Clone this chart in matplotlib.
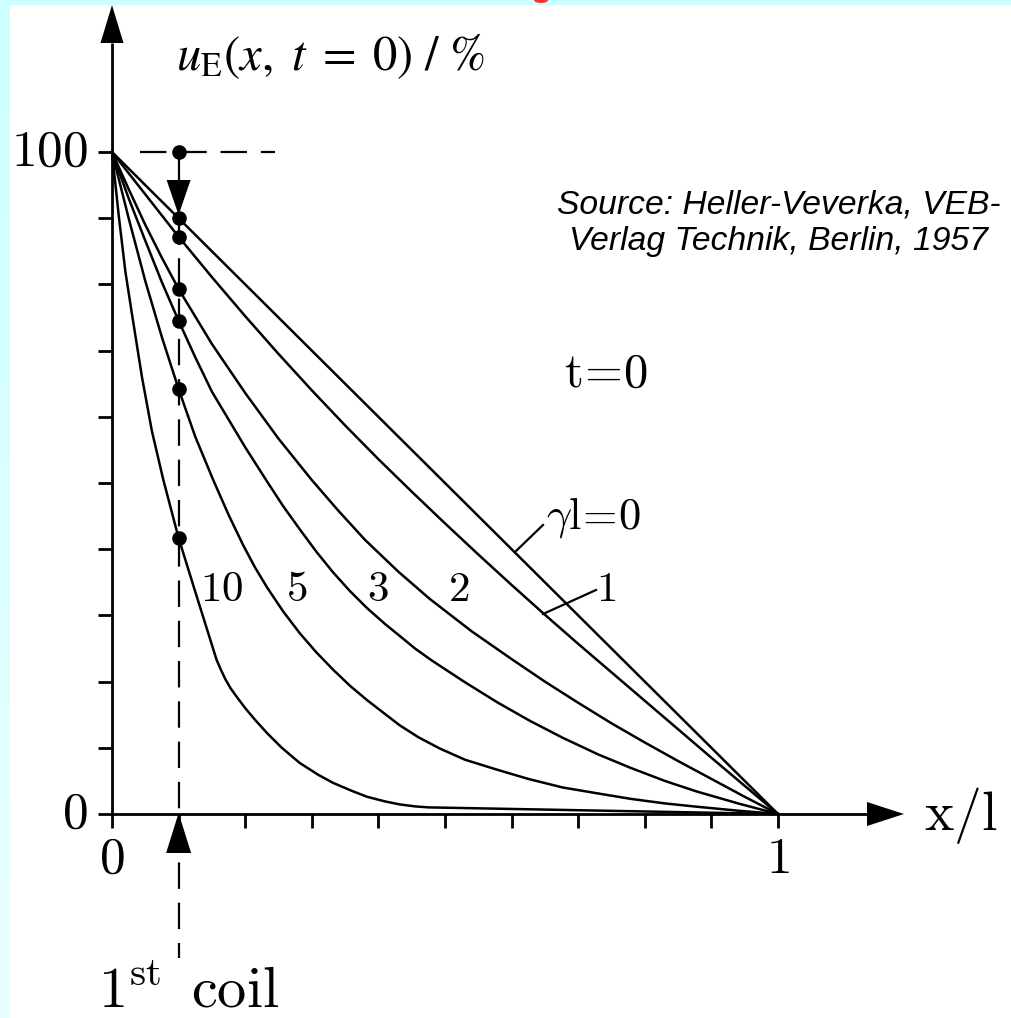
import matplotlib
matplotlib.use('Agg')
import matplotlib.pyplot as plt
from matplotlib.patches import Rectangle, Ellipse
import numpy as np

plt.rcParams['mathtext.fontset'] = 'cm'
plt.rcParams['lines.scale_dashes'] = False

# Voltage distribution u_E(x, t=0) in % along the winding
x_g0 = [0, 1]
u_g0 = [100, 0]

x_g1 = [0, 0.05, 0.1, 0.15, 0.2, 0.25, 0.3, 0.35, 0.4, 0.45, 0.5,
        0.55, 0.6, 0.65, 0.7, 0.75, 0.8, 0.85, 0.9, 0.95, 1]
u_g1 = [100, 93.6, 87.2, 81.1, 75.2, 69.5, 64.0, 58.7, 53.6, 48.7, 43.9,
        39.2, 34.6, 30.1, 25.7, 21.4, 17.1, 12.8, 8.5, 4.25, 0]

x_g2 = [0, 0.025, 0.05, 0.075, 0.1, 0.15, 0.2, 0.25, 0.3, 0.34, 0.38, 0.43,
        0.477, 0.54, 0.6, 0.65, 0.7, 0.75, 0.8, 0.85, 0.9, 0.95, 1]
u_g2 = [100, 94.4, 89.0, 84.0, 79.3, 71.0, 63.6, 56.7, 50.45, 45.8, 41.4, 36.6,
        32.5, 27.6, 23.4, 20.0, 16.8, 13.7, 10.8, 8.0, 5.3, 2.6, 0]

x_g3 = [0, 0.025, 0.05, 0.075, 0.1, 0.125, 0.15, 0.175, 0.2, 0.233, 0.257,
        0.282, 0.307, 0.332, 0.357, 0.383, 0.41, 0.432, 0.455, 0.48, 0.53,
        0.578, 0.627, 0.677, 0.73, 0.778, 0.83, 0.878, 0.94, 1]
u_g3 = [100, 93.0, 86.6, 80.3, 74.5, 69.0, 63.8, 59.6, 55.4, 50.2, 46.5,
        43.0, 39.6, 36.5, 33.7, 31.1, 28.7, 26.9, 25.0, 23.2, 19.9,
        16.9, 14.1, 11.5, 9.0, 7.0, 5.0, 3.4, 1.6, 0]

x_g5 = [0, 0.025, 0.05, 0.075, 0.1, 0.125, 0.152, 0.175, 0.197, 0.215, 0.233,
        0.257, 0.282, 0.307, 0.332, 0.357, 0.383, 0.41, 0.432, 0.46, 0.492,
        0.53, 0.578, 0.625, 0.677, 0.73, 0.778, 0.83, 0.878, 0.94, 1]
u_g5 = [100, 90.0, 80.5, 72.0, 64.2, 57.0, 50.45, 45.2, 40.6, 37.2, 34.2,
        30.6, 27.3, 24.4, 21.8, 19.4, 17.2, 15.1, 13.4, 11.6, 9.9,
        8.2, 6.7, 5.3, 4.0, 3.1, 2.3, 1.6, 1.1, 0.5, 0]

x_g10 = [0, 0.01, 0.02, 0.03, 0.045, 0.06, 0.077, 0.1, 0.124, 0.157, 0.163,
         0.17, 0.178, 0.188, 0.2, 0.215, 0.233, 0.255, 0.282, 0.31, 0.332,
         0.36, 0.383, 0.41, 0.432, 0.455, 0.475, 1]
u_g10 = [100, 90.5, 82.0, 75.5, 66.0, 57.8, 50.5, 41.7, 33.9, 23.3, 21.9,
         20.4, 19.0, 17.6, 16.0, 14.2, 12.2, 10.0, 7.7, 5.9, 4.7,
         3.5, 2.6, 1.9, 1.45, 1.15, 1.0, 0]

curves = [(x_g0, u_g0), (x_g1, u_g1), (x_g2, u_g2),
          (x_g3, u_g3), (x_g5, u_g5), (x_g10, u_g10)]

# first coil position and the marked values on it
x_coil = 0.1
u_coil = [100, 90, 87.2, 79.3, 74.5, 64.2, 41.7]

y_ticks = np.arange(10, 101, 10)
x_ticks = np.arange(0.1, 1.01, 0.1)

# pixel geometry of the sheet
W, H = 1012, 1018
X0, Y0 = 112, 814          # origin in pixels
SX, SY = 666.0, 6.62       # px per unit of x/l, px per percent


def dx(p):
    return p / SX


def dy(p):
    return p / SY


def px(p):
    return (p - X0) / SX


def py(p):
    return (Y0 - p) / SY


fig = plt.figure(figsize=(W / 100, H / 100), dpi=100, facecolor='#ccffff')

# white sheet, with the light cyan frame on the top and left
fig.patches.append(Rectangle((10 / W, 0), 1, (H - 5) / H, transform=fig.transFigure,
                             facecolor='white', edgecolor='none', zorder=-2))
fig.patches.append(Ellipse((541 / W, 1.0), 14 / W, 6 / H, transform=fig.transFigure,
                           facecolor='#ff3030', edgecolor='none', zorder=-1))
strip = fig.add_axes([0, 0, 10 / W, (H - 5) / H])
strip.imshow(np.linspace(0, 1, 100).reshape(-1, 1), aspect='auto',
             cmap=matplotlib.colors.LinearSegmentedColormap.from_list(
                 'frame', ['#ccffff', '#e9ffff']))
strip.axis('off')

ax = fig.add_axes([0, 0, 1, 1])
ax.set_xlim(px(0), px(W))
ax.set_ylim(py(H), py(0))
ax.axis('off')

lw_axis = 2.0
lw_curve = 1.8

# axes with arrow heads
ax.plot([-dx(14), px(867)], [0, 0], color='black', lw=lw_axis, solid_capstyle='butt')
ax.fill([px(867), px(904), px(867)], [dy(12), 0, -dy(12)], color='black', lw=0)
ax.plot([0, 0], [-dy(14), py(43)], color='black', lw=lw_axis, solid_capstyle='butt')
ax.fill([-dx(11.5), 0, dx(11.5)], [py(43), py(5), py(43)], color='black', lw=0)

for yt in y_ticks:
    ax.plot([-dx(14), 0], [yt, yt], color='black', lw=lw_axis, solid_capstyle='butt')
for xt in x_ticks:
    ax.plot([xt, xt], [0, -dy(14)], color='black', lw=lw_axis, solid_capstyle='butt')

tick_fs = 37
ax.text(-dx(24), 100, r'$100$', ha='right', va='center', fontsize=tick_fs)
ax.text(-dx(24), 0, r'$0$', ha='right', va='center', fontsize=tick_fs)
ax.text(0, py(859), r'$0$', ha='center', va='center', fontsize=tick_fs)
ax.text(1, py(859), r'$1$', ha='center', va='center', fontsize=tick_fs)
ax.text(px(924), py(830), r'$\mathrm{x/l}$', ha='left', va='baseline', fontsize=40)

# curves
for xs, us in curves:
    ax.plot(xs, us, color='black', lw=lw_curve, solid_joinstyle='round')

# first coil: dashed guides, arrows and dots
ax.plot([px(140), px(275)], [100, 100], color='black', lw=1.6, dashes=(19, 10))
ax.plot([x_coil, x_coil], [90, py(958)], color='black', lw=1.6, dashes=(19, 10))
ax.plot([x_coil, x_coil], [100, py(182)], color='black', lw=1.6)
ax.fill([x_coil - dx(12), x_coil, x_coil + dx(12)], [py(180), py(215), py(180)],
        color='black', lw=0, zorder=4)
ax.fill([x_coil - dx(12.5), x_coil, x_coil + dx(12.5)], [py(853), py(813), py(853)],
        color='black', lw=0, zorder=4)
ax.plot([x_coil] * len(u_coil), u_coil, 'o', color='black', ms=9.5, zorder=5)

# curve labels
lab_fs = 31
ax.text(px(222), py(589), r'$10$', ha='center', va='center', fontsize=lab_fs)
ax.text(px(297), py(589), r'$5$', ha='center', va='center', fontsize=lab_fs)
ax.text(px(378), py(589), r'$3$', ha='center', va='center', fontsize=lab_fs)
ax.text(px(459), py(589), r'$2$', ha='center', va='center', fontsize=lab_fs)
ax.text(px(606), py(589), r'$1$', ha='center', va='center', fontsize=lab_fs)
ax.text(px(593), py(517), r'$\gamma\mathrm{l}\!=\!0$', ha='center', va='center', fontsize=32)
ax.plot([px(543), px(515)], [py(525), py(552)], color='black', lw=1.6)
ax.plot([px(596), px(543)], [py(590), py(614)], color='black', lw=1.6)

ax.text(px(606), py(373), r'$\mathrm{t}\!=\!0$', ha='center', va='center', fontsize=35)

ax.text(px(98), py(1008), r'$1^{\mathrm{st}}\ \,\mathrm{coil}$', ha='left', va='baseline',
        fontsize=42)

ax.text(px(176), py(70), r'$u_{\mathrm{E}}(x,\ t\;=\;0)\ /\ \%$', ha='left',
        va='baseline', fontsize=35, math_fontfamily='stix')

fig.text(779 / W, 1 - 223 / H, 'Source: Heller-Veverka, VEB-\nVerlag Technik, Berlin, 1957',
         ha='center', va='center', multialignment='center', fontsize=24.2,
         family='Liberation Sans', style='italic', linespacing=1.25)

fig.savefig('out.png', dpi=100, facecolor=fig.get_facecolor())
